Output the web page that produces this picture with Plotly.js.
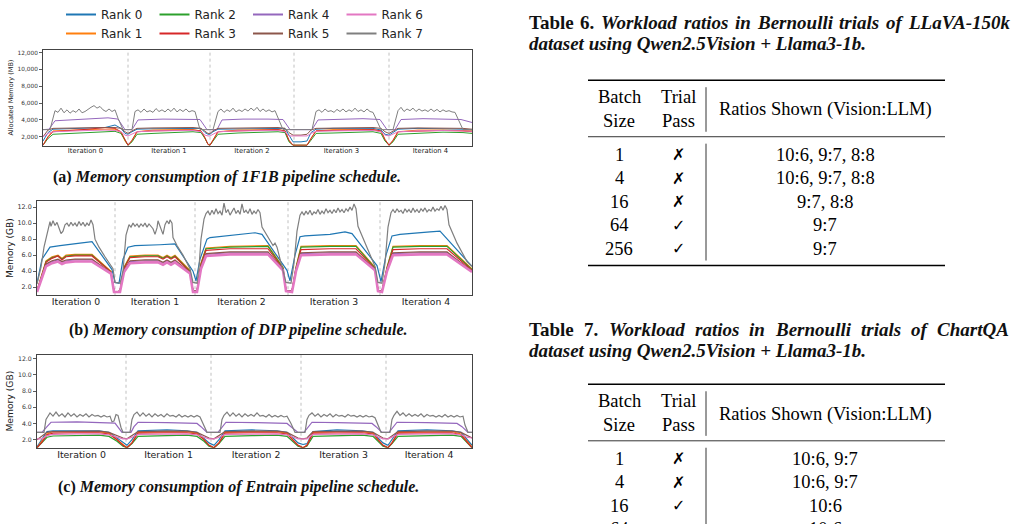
<!DOCTYPE html>
<html><head><meta charset="utf-8">
<script src="https://cdn.plot.ly/plotly-3.0.1.min.js"></script>
<style>html,body{margin:0;padding:0;background:#fff}#chart{width:1014px;height:524px}</style>
</head><body><div id="chart"></div>
<script>
// ---------------- DATA ----------------
const rankNames = ['Rank 0','Rank 1','Rank 2','Rank 3','Rank 4','Rank 5','Rank 6','Rank 7'];
const iterLabels = ['Iteration 0','Iteration 1','Iteration 2','Iteration 3','Iteration 4'];

// (a) 1F1B schedule, allocated memory (MB) vs time step
const a_bounds = [0, 85, 167, 251, 346, 429];
const a_yticks = [2000, 4000, 6000, 8000, 10000, 12000];
const a_t = [0,5,10,25,45,62,72,78,82,85,89,94,110,130,150,158,162,165,167,170,175,195,215,235,242,246,250,258,264,268,273,290,310,330,338,342,346,350,355,375,400,420,429];
const a_rank0 = [1500,2500,2900,2950,3050,3100,3400,3000,2400,2300,2600,2900,2950,2950,3000,3000,2500,2300,2300,2600,2900,2950,3000,3000,3000,2200,1400,1400,1500,2500,2900,3000,3000,3000,2800,2300,2200,2500,2900,3000,2950,2900,2800];
const a_rank1 = [1000,2000,2700,2800,2850,2900,2900,2500,1500,1000,1500,2600,2800,2850,2850,2700,1800,1100,1000,1600,2600,2800,2850,2850,2700,1500,1000,1000,1000,1800,2700,2850,2850,2850,2600,1600,1000,1500,2600,2800,2800,2750,2700];
const a_rank2 = [1000,1800,2300,2400,2500,2600,2650,2400,1500,1000,1400,2300,2400,2500,2600,2500,1800,1100,1000,1500,2300,2450,2550,2600,2500,1400,1000,1000,1000,1600,2400,2450,2550,2600,2400,1500,1000,1400,2300,2450,2550,2500,2400];
const a_rank3 = [1000,2000,2600,2700,2900,3100,3000,2600,1600,1000,1600,2600,2700,2750,2800,2700,1900,1100,1000,1600,2600,2700,2800,2850,2700,1600,1000,1000,1000,1800,2700,2750,2800,2850,2700,1700,1000,1600,2600,2700,2750,2700,2600];
const a_rank4_t = [0,6,12,30,50,65,75,82,89,95,120,145,157,164,174,179,200,225,240,247,269,275,300,320,337,344,352,358,380,405,418,429];
const a_rank4 = [2850,2900,3900,4000,4150,4250,4100,2850,2850,4000,4100,4100,4050,2850,2850,4000,4100,4100,4050,2850,2850,4000,4100,4150,4050,2850,2850,4050,4150,4100,4050,3700];
const a_rank5 = [2000,2800,3000,3050,3050,3100,3100,3000,2600,2400,2700,3000,3050,3050,3100,3000,2600,2400,2400,2700,3000,3050,3100,3100,3000,2500,2200,2200,2300,2800,3000,3050,3100,3100,3000,2600,2400,2700,3000,3050,3050,3000,2900];
const a_rank6 = [2000,2400,2600,2700,2750,2800,2750,2600,2200,2100,2300,2600,2700,2750,2750,2600,2200,2100,2100,2300,2600,2700,2750,2750,2600,2100,2100,2100,2100,2400,2650,2700,2750,2750,2600,2200,2100,2300,2600,2700,2750,2700,2650];
const a_rank7_t = [
  0,7,12,15,18,21,24,27,30,33,36,39,42,45,48,51,54,57,60,63,66,69,72,75,78,80,
  89,92,95,98,101,104,107,110,113,116,119,122,125,128,131,134,137,140,143,146,149,152,157,
  170,175,178,181,184,187,190,193,196,199,202,205,208,211,214,217,220,223,226,229,232,240,269,
  273,276,279,282,285,288,291,294,297,300,303,306,309,312,315,318,321,324,327,330,338,350,
  355,358,361,364,367,370,373,376,379,382,385,388,391,394,397,400,403,406,409,412,420,429];
const a_rank7 = [
  2850,2850,5100,4900,5400,4850,5200,4800,5100,4900,5300,4850,5000,5200,5500,5700,5400,5600,5200,5000,5300,5000,5200,4200,3300,2850,
  2850,5000,5200,4900,5300,4950,5100,4900,5350,5000,5200,4950,5300,5000,5400,4950,5250,5000,5300,4950,5100,5000,2850,
  2850,5000,5300,4900,5200,5000,5400,4950,5200,5000,5300,5050,5400,5100,5500,5000,5300,5000,5200,4950,5100,2850,2850,
  5000,5200,4900,5300,5000,5100,4900,5250,5000,5300,4950,5200,5000,5400,5000,5200,4950,5300,5000,4900,2850,2850,
  5100,5500,5000,5300,5100,5400,5000,5300,5050,5200,5000,5300,5000,5250,4950,5200,5000,5100,4950,4900,2850,2850];

// (b) DIP schedule, memory (GB)
const b_bounds = [0, 78, 158, 251, 343, 435];
const b_yticks = [2, 4, 6, 8, 10, 12];
const b_t = [0,5,9,15,21,25,29,38,55,74,77,79,83,87,93,108,121,126,130,134,138,153,156,160,164,169,193,231,246,249,255,259,264,293,319,338,341,345,350,356,383,410,435];
const b_rank0_t = [0,5,13,23,43,55,75,78,82,86,91,98,123,138,156,159,163,170,173,203,218,225,250,253,258,263,268,293,308,315,340,344,349,355,363,393,403,435];
const b_rank0 = [2.5,5.5,7.0,7.2,7.5,7.7,4.2,2.6,2.5,5.5,7.0,7.2,7.3,7.4,4.0,2.8,5.5,8.0,8.2,8.6,8.8,8.6,4.1,2.8,6.0,8.3,8.4,8.6,8.9,8.7,4.7,2.7,6.0,8.4,8.6,8.9,9.0,4.6];
const b_rank1 = [1.6,3.8,5.3,5.8,6.0,5.6,6.0,6.1,6.1,4.0,1.5,1.4,1.5,4.5,5.9,6.0,6.0,5.7,6.0,5.7,6.0,4.1,1.5,1.5,5.0,6.9,7.1,7.2,4.5,1.6,1.5,4.5,7.1,7.2,7.2,4.5,1.6,1.5,4.5,7.1,7.2,7.2,4.3];
const b_rank2 = [1.5,3.7,5.2,5.7,5.9,5.5,5.9,6.0,6.0,3.9,1.5,1.4,1.5,4.4,5.8,5.9,5.9,5.6,5.9,5.6,5.9,4.0,1.5,1.5,4.9,6.8,7.0,7.1,4.4,1.6,1.5,4.4,7.0,7.1,7.1,4.4,1.6,1.5,4.4,7.0,7.1,7.1,4.2];
const b_rank3 = [1.5,3.6,5.1,5.6,5.9,5.4,5.8,5.9,5.9,3.9,1.5,1.4,1.5,4.3,5.7,5.8,5.8,5.5,5.8,5.5,5.8,3.9,1.5,1.5,4.8,6.6,6.8,6.8,4.3,1.6,1.5,4.3,6.7,6.8,6.8,4.3,1.6,1.5,4.3,6.7,6.8,6.8,4.1];
const b_rank4 = [1.5,3.4,4.8,5.2,5.4,5.1,5.3,5.4,5.4,3.8,1.5,1.4,1.5,4.0,5.2,5.3,5.3,5.0,5.3,5.0,5.3,3.8,1.5,1.5,4.5,6.1,6.3,6.3,4.2,1.6,1.5,4.1,6.2,6.3,6.3,4.2,1.6,1.5,4.1,6.2,6.3,6.3,4.0];
const b_rank5 = [1.5,3.5,4.9,5.3,5.5,5.2,5.4,5.5,5.5,3.8,1.5,1.4,1.5,4.1,5.3,5.4,5.4,5.1,5.4,5.1,5.4,3.8,1.5,1.5,4.6,6.2,6.4,6.4,4.2,1.6,1.5,4.2,6.3,6.4,6.4,4.2,1.6,1.5,4.2,6.3,6.4,6.4,4.0];
const b_rank6 = [1.4,3.2,4.6,5.0,5.2,4.9,5.1,5.2,5.2,3.7,1.4,1.4,1.4,3.9,5.0,5.1,5.1,4.8,5.1,4.8,5.1,3.7,1.4,1.4,4.3,5.9,6.1,6.1,4.1,1.5,1.4,4.0,6.0,6.1,6.1,4.1,1.5,1.4,4.0,6.0,6.1,6.1,3.9];
const b_rank7_t = [
  0,4,7,10,12,13,14,16,18,20,22,24,26,28,30,32,34,36,38,40,42,44,46,48,50,52,54,56,58,62,68,76,78,83,
  86,89,92,94,96,98,100,102,104,106,108,110,112,114,116,118,120,121,123,125,126,128,130,132,133,135,136,140,146,153,156,160,
  162,164,167,169,171,173,175,177,179,181,183,185,187,189,191,193,195,197,199,201,203,205,207,209,211,213,215,217,219,221,223,225,236,238,240,246,249,254,
  257,260,263,265,267,269,271,273,275,277,279,281,283,285,287,289,291,293,295,297,299,301,303,305,307,309,311,313,315,317,319,321,330,338,341,345,
  348,351,354,356,358,360,362,364,366,368,370,372,374,376,378,380,382,384,386,388,390,392,394,396,398,400,402,404,406,408,410,412,420,430,435];
const b_rank7 = [
  2.4,4.5,7.0,8.5,9.8,10.2,9.6,10.3,9.7,10.1,9.4,8.7,9.0,9.8,10.0,9.6,10.1,9.7,10.0,9.6,10.2,9.7,10.1,9.6,10.0,9.7,10.4,9.8,8.0,7.0,5.8,4.3,2.6,2.5,
  4.0,8.5,9.8,9.5,10.0,9.6,9.9,9.5,9.9,9.6,10.0,9.5,9.9,9.6,9.3,8.6,9.4,10.3,9.6,8.8,8.6,9.8,10.3,9.9,10.4,10.0,8.2,7.2,6.0,4.3,2.6,2.5,
  4.5,8.0,10.5,11.2,11.5,11.0,11.6,11.1,11.8,11.2,11.5,11.0,12.5,11.3,11.7,11.0,11.4,11.9,11.2,11.6,11.1,12.4,11.3,11.6,11.2,11.8,11.1,11.5,11.2,11.7,11.3,9.5,7.2,7.5,7.0,4.0,2.6,2.5,
  5.0,9.0,11.0,11.4,11.0,11.5,11.1,11.6,11.0,11.4,11.2,11.7,11.1,11.5,11.2,11.8,11.3,11.6,11.2,11.7,11.3,11.9,11.4,11.7,11.3,11.8,11.5,12.0,11.6,12.4,11.8,9.6,7.0,4.6,2.6,2.5,
  5.0,9.5,11.3,11.7,11.3,11.8,11.4,11.6,11.2,11.8,11.4,11.7,11.3,11.9,11.4,11.7,11.3,11.8,11.5,11.9,11.4,11.7,11.5,12.0,11.5,11.8,11.6,12.1,11.6,12.2,11.7,9.8,7.5,5.2,4.6];

// (c) Entrain schedule, memory (GB)
const c_bounds = [0, 89, 174, 264, 349, 435];
const c_yticks = [2, 4, 6, 8, 10, 12];
const c_t = [0,5,10,16,40,62,72,80,86,90,95,101,130,150,160,167,172,177,182,188,215,240,250,256,261,266,270,276,300,325,336,341,346,351,355,361,390,415,424,430,435];
const c_rank0 = [1.1,2.0,3.0,3.1,3.1,3.1,2.9,2.2,1.6,1.3,2.0,3.1,3.2,3.1,2.9,2.2,1.6,1.3,2.0,3.1,3.2,3.1,2.9,2.2,1.6,1.4,1.5,3.0,3.2,3.1,2.9,2.2,1.6,1.3,2.0,3.1,3.2,3.1,2.9,2.0,1.3];
const c_rank1 = [1.0,1.8,2.7,3.0,3.0,3.0,2.8,2.0,1.3,1.0,1.6,2.9,3.0,3.0,2.8,2.0,1.3,1.0,1.6,2.9,3.0,3.0,2.8,2.0,1.3,1.0,1.3,2.9,3.0,3.0,2.8,2.0,1.3,1.0,1.6,2.9,3.0,3.0,2.7,1.8,1.1];
const c_rank2 = [1.0,1.6,2.3,2.45,2.5,2.55,2.4,1.8,1.2,1.0,1.5,2.4,2.5,2.55,2.4,1.8,1.2,1.0,1.5,2.4,2.5,2.55,2.4,1.8,1.2,1.0,1.2,2.4,2.5,2.55,2.4,1.8,1.2,1.0,1.5,2.4,2.5,2.55,2.4,1.6,1.0];
const c_rank3 = [1.0,1.7,2.6,2.8,2.85,2.85,2.7,2.0,1.3,1.0,1.6,2.8,2.85,2.85,2.7,2.0,1.3,1.0,1.6,2.8,2.85,2.85,2.7,2.0,1.3,1.0,1.3,2.8,2.85,2.85,2.7,2.0,1.3,1.0,1.6,2.8,2.85,2.85,2.6,1.8,1.0];
const c_rank4_t = [0,5,10,14,40,70,78,85,94,97,101,130,160,164,170,181,185,189,220,250,254,261,267,271,275,300,335,339,345,352,356,360,390,420,425,431,435];
const c_rank4 = [2.9,2.9,3.6,4.15,4.2,4.1,4.05,2.9,2.9,3.6,4.15,4.1,4.0,3.6,2.9,2.9,3.6,4.15,4.1,4.0,3.6,2.9,2.9,3.6,4.15,4.1,4.0,3.6,2.9,2.9,3.6,4.15,4.1,4.0,3.6,2.9,2.9];
const c_rank5 = [2.0,2.5,2.9,3.0,3.05,3.05,2.9,2.5,2.2,2.1,2.5,3.0,3.05,3.05,2.9,2.5,2.2,2.1,2.5,3.0,3.05,3.05,2.9,2.5,2.2,2.1,2.2,3.0,3.05,3.05,2.9,2.5,2.2,2.1,2.5,3.0,3.05,3.05,2.9,2.5,2.2];
const c_rank6 = [2.1,2.1,2.5,2.65,2.7,2.7,2.6,2.3,2.1,2.1,2.3,2.65,2.7,2.7,2.6,2.3,2.1,2.1,2.3,2.65,2.7,2.7,2.6,2.3,2.1,2.1,2.1,2.65,2.7,2.7,2.6,2.3,2.1,2.1,2.3,2.65,2.7,2.7,2.6,2.3,2.2];
const c_rank7_t = [
  0,7,9,11,13,16,19,22,25,28,31,34,37,40,43,46,49,52,55,58,61,64,67,70,73,75,77,79,81,84,86,93,
  95,97,100,103,106,109,112,115,118,121,124,127,130,133,136,139,142,145,148,151,154,157,160,163,166,170,183,
  185,187,190,193,196,199,202,205,208,211,214,217,220,223,226,229,232,235,238,241,244,247,250,254,258,268,
  270,272,275,278,281,284,287,290,293,296,299,302,305,308,311,314,317,320,323,326,329,332,335,338,341,344,353,
  355,357,360,363,366,369,372,375,378,381,384,387,390,393,396,399,402,405,408,411,414,417,420,423,426,428,431,435];
const c_rank7 = [
  2.9,2.9,4.5,5.0,5.3,4.9,5.4,4.9,5.2,4.8,5.3,4.9,5.2,4.8,5.1,4.9,5.2,4.8,5.1,4.9,5.0,4.8,5.0,4.8,4.9,4.2,4.3,5.1,5.0,3.5,2.9,2.9,
  4.5,5.1,5.4,4.9,5.3,4.9,5.2,4.8,5.2,4.9,5.1,4.8,5.2,4.9,5.0,4.8,5.1,4.8,5.0,4.8,5.0,4.8,5.0,4.8,4.0,2.9,2.9,
  4.5,5.0,5.4,4.9,5.3,4.9,5.2,4.8,5.2,4.9,5.1,4.9,5.3,4.9,5.0,4.8,5.1,4.8,5.0,4.8,5.0,4.8,4.9,4.0,2.9,2.9,
  4.5,5.0,5.3,4.9,5.2,4.8,5.1,4.9,5.2,4.8,5.1,4.9,5.0,4.8,5.1,4.9,5.0,4.8,5.0,4.8,5.0,4.8,4.9,4.7,3.8,2.9,2.9,
  4.5,5.0,5.5,5.0,5.3,4.9,5.2,4.9,5.1,4.9,5.2,4.8,5.1,4.9,5.0,4.8,5.0,4.8,5.1,4.8,5.0,4.8,5.0,4.8,4.9,3.8,2.9,2.9];

// Tables
const t6_title = [['Table','6.'], ['Workload','ratios','in','Bernoulli','trials','of','LLaVA-150k'], 'dataset using Qwen2.5Vision + Llama3-1b.'];
const t7_title = [['Table','7.'], ['Workload','ratios','in','Bernoulli','trials','of','ChartQA'], 'dataset using Qwen2.5Vision + Llama3-1b.'];
const t_header = [['Batch','Size'], ['Trial','Pass'], 'Ratios Shown (Vision:LLM)'];
const t6_batch = ['1','4','16','64','256'];
const t6_pass  = ['✗','✗','✗','✓','✓'];
const t6_ratio = ['10:6, 9:7, 8:8','10:6, 9:7, 8:8','9:7, 8:8','9:7','9:7'];
const t7_batch = ['1','4','16','64'];
const t7_pass  = ['✗','✗','✓','✓'];
const t7_ratio = ['10:6, 9:7','10:6, 9:7','10:6','10:6'];

const captions = [
  ['(a)', 'Memory consumption of 1F1B pipeline schedule.'],
  ['(b)', 'Memory consumption of DIP pipeline schedule.'],
  ['(c)', 'Memory consumption of Entrain pipeline schedule.']];

// ---------------- STYLE / LAYOUT ----------------
const W = 1014, H = 524;
const ML = 37, GW = 435;                 // plot-area frame used by paper coordinates
const PX = v => (v - ML) / GW, PY = v => 1 - v / H;
const COLORS = ['#1f77b4','#ff7f0e','#2ca02c','#d62728','#9467bd','#8c564b','#e377c2','#7f7f7f'];
const SANS = 'DejaVu Sans, sans-serif';
const SERIF = 'Liberation Serif, Times New Roman, serif';
const LEG_RANK = [1, 5, 2, 6, 3, 7, 4, 8];

const panels = [
  {bounds: a_bounds, series: [[a_t,a_rank0],[a_t,a_rank1],[a_t,a_rank2],[a_t,a_rank3],[a_rank4_t,a_rank4],[a_t,a_rank5],[a_t,a_rank6],[a_rank7_t,a_rank7]]},
  {bounds: b_bounds, series: [[b_rank0_t,b_rank0],[b_t,b_rank1],[b_t,b_rank2],[b_t,b_rank3],[b_t,b_rank4],[b_t,b_rank5],[b_t,b_rank6],[b_rank7_t,b_rank7]]},
  {bounds: c_bounds, series: [[c_t,c_rank0],[c_t,c_rank1],[c_t,c_rank2],[c_t,c_rank3],[c_rank4_t,c_rank4],[c_t,c_rank5],[c_t,c_rank6],[c_rank7_t,c_rank7]]}
];

const traces = [];
panels.forEach((p, pi) => {
  const sfx = pi === 0 ? '' : String(pi + 1);
  p.series.forEach((s, r) => {
    let w = pi === 0 ? 1 : 1.2;
    if (pi === 1 && r === 6) w = 2.6;
    traces.push({
      type: 'scatter', mode: 'lines', x: s[0], y: s[1],
      xaxis: 'x' + sfx, yaxis: 'y' + sfx, legendgroup: rankNames[r],
      name: rankNames[r], line: {color: COLORS[r], width: w},
      showlegend: false, hoverinfo: 'skip'
    });
  });
});
// legend entries (one per rank, shared by the three panels)
rankNames.forEach((n, r) => traces.push({
  type: 'scatter', mode: 'lines', x: [null], y: [null], name: n, legendgroup: n,
  legendrank: LEG_RANK[r], showlegend: true, line: {color: COLORS[r], width: 2}, hoverinfo: 'skip'}));

const mids = b => b.slice(0, -1).map((v, i) => (v + b[i + 1]) / 2);
const frame = {showline: true, mirror: true, linecolor: '#444', linewidth: 1, showgrid: false, zeroline: false};

function xAxis(dom, bounds, anchor, fs) {
  return Object.assign({}, frame, {domain: dom, range: [bounds[0], bounds[bounds.length - 1]], anchor: anchor,
    tickmode: 'array', tickvals: mids(bounds), ticktext: iterLabels, ticks: '', ticklen: 0, ticklabelstandoff: -2,
    tickfont: {family: SANS, size: fs, color: '#222'}});
}
function yAxis(dom, range, vals, fmt, anchor, fs, title, tfs, stand) {
  return Object.assign({}, frame, {domain: dom, range: range, anchor: anchor, tickmode: 'array', tickvals: vals,
    tickformat: fmt, ticks: 'outside', ticklen: 3, tickwidth: 0.8, tickcolor: '#333',
    tickfont: {family: SANS, size: fs, color: '#333'},
    title: {text: title, font: {family: SANS, size: tfs, color: '#222'}, standoff: stand}});
}

const shapes = [];
panels.forEach((p, pi) => {
  const sfx = pi === 0 ? '' : String(pi + 1);
  p.bounds.slice(1, -1).forEach(b => shapes.push({type: 'line', xref: 'x' + sfx, yref: 'y' + sfx + ' domain',
    x0: b, x1: b, y0: 0, y1: 1, line: {color: '#b0b0b0', width: 0.8, dash: 'dot'}, layer: 'below'}));
});

const annotations = [];
const txt = (t, x, y, anchor, font) => annotations.push({xref: 'paper', yref: 'paper', x: PX(x), y: PY(y),
  xanchor: anchor || 'center', yanchor: 'middle', showarrow: false, text: t,
  font: font || {family: SERIF, size: 18.5, color: '#000'}});

const capPos = [[227, 174], [238, 328], [238, 487]];
captions.forEach((c, i) => txt('<b>' + c[0] + '</b> <b><i>' + c[1] + '</i></b>', capPos[i][0], capPos[i][1], 'center',
  {family: 'Liberation Serif', size: 16, color: '#111'}));

// justified title line: words spread between x0 and x1
const ctx = document.createElement('canvas').getContext('2d');
function justify(upright, italic, x0, x1, y, size) {
  const words = upright.map(w => [w, 'bold']).concat(italic.map(w => [w, 'italic bold']));
  const widths = words.map(w => { ctx.font = w[1] + ' ' + size + 'px "Liberation Serif"'; return ctx.measureText(w[0]).width; });
  const total = widths.reduce((a, b) => a + b, 0);
  const gap = Math.min(14, Math.max(3, (x1 - x0 - total) / (words.length - 1)));
  let x = x0;
  words.forEach((w, i) => {
    const t = w[1] === 'bold' ? '<b>' + w[0] + '</b>' : '<b><i>' + w[0] + '</i></b>';
    txt(t, x, y, 'left', {family: 'Liberation Serif', size: size, color: '#111'});
    x += widths[i] + gap;
  });
}

function addTable(title, top, titleTop, batch, pass, ratio, bottomRule) {
  const ts = 19;
  justify(title[0], title[1], 527, 1007, titleTop, ts);
  txt('<b><i>' + title[2] + '</i></b>', 527, titleTop + 21, 'left', {family: 'Liberation Serif', size: ts, color: '#111'});
  const hl = (y, w) => shapes.push({type: 'line', xref: 'paper', yref: 'paper', x0: PX(588), x1: PX(945), y0: PY(y), y1: PY(y), line: {color: '#000', width: w}});
  const vl = (y0, y1) => shapes.push({type: 'line', xref: 'paper', yref: 'paper', x0: PX(706), x1: PX(706), y0: PY(y0), y1: PY(y1), line: {color: '#000', width: 0.8}});
  hl(top, 1.5);
  txt(t_header[0][0], 619, top + 17); txt(t_header[0][1], 619, top + 41);
  txt(t_header[1][0], 678, top + 17); txt(t_header[1][1], 678, top + 41);
  txt(t_header[2], 825, top + 30);
  vl(top + 7, top + 52);
  hl(top + 57, 0.8);
  vl(top + 64, bottomRule ? top + 182 : H + 20);
  batch.forEach((b, i) => {
    const y = top + 75 + i * 23.75;
    txt(b, 619, y);
    txt(pass[i], 678, y, 'center', {family: 'DejaVu Sans', size: 16, color: '#000'});
    txt(ratio[i], 825, y);
  });
  if (bottomRule) hl(top + 187, 1.5);
}
addTable(t6_title, 76, 18, t6_batch, t6_pass, t6_ratio, true);
addTable(t7_title, 383, 328, t7_batch, t7_pass, t7_ratio, false);

const layout = {
  width: W, height: H, margin: {l: ML, r: W - ML - GW, t: 0, b: 0, pad: 0}, autosize: false,
  paper_bgcolor: '#fff', plot_bgcolor: 'rgba(0,0,0,0)', showlegend: true,
  legend: {orientation: 'h', xanchor: 'left', yanchor: 'top', x: PX(61), y: PY(-5.5),
    font: {family: SANS, size: 12, color: '#222'}, bgcolor: 'rgba(0,0,0,0)', borderwidth: 0,
    entrywidth: 48.5, entrywidthmode: 'pixels', itemwidth: 30, traceorder: 'normal'},
  xaxis: xAxis([PX(43), PX(472)], a_bounds, 'y', 6.8),
  yaxis: yAxis([PY(142), PY(45)], [950, 12350], a_yticks, ',d', 'x', 5.8, 'Allocated Memory (MB)', 6.5, 3),
  xaxis2: xAxis([PX(37), PX(472)], b_bounds, 'y2', 9.3),
  yaxis2: yAxis([PY(293), PY(198)], [1.0, 12.75], b_yticks, '.1f', 'x2', 6.4, 'Memory (GB)', 9, 2),
  xaxis3: xAxis([PX(37), PX(472)], c_bounds, 'y3', 9.4),
  yaxis3: yAxis([PY(447), PY(353)], [1.0, 12.5], c_yticks, '.1f', 'x3', 6.2, 'Memory (GB)', 9.2, 2),
  shapes: shapes, annotations: annotations
};

Plotly.newPlot('chart', traces, layout, {staticPlot: true, displayModeBar: false});
</script></body></html>
